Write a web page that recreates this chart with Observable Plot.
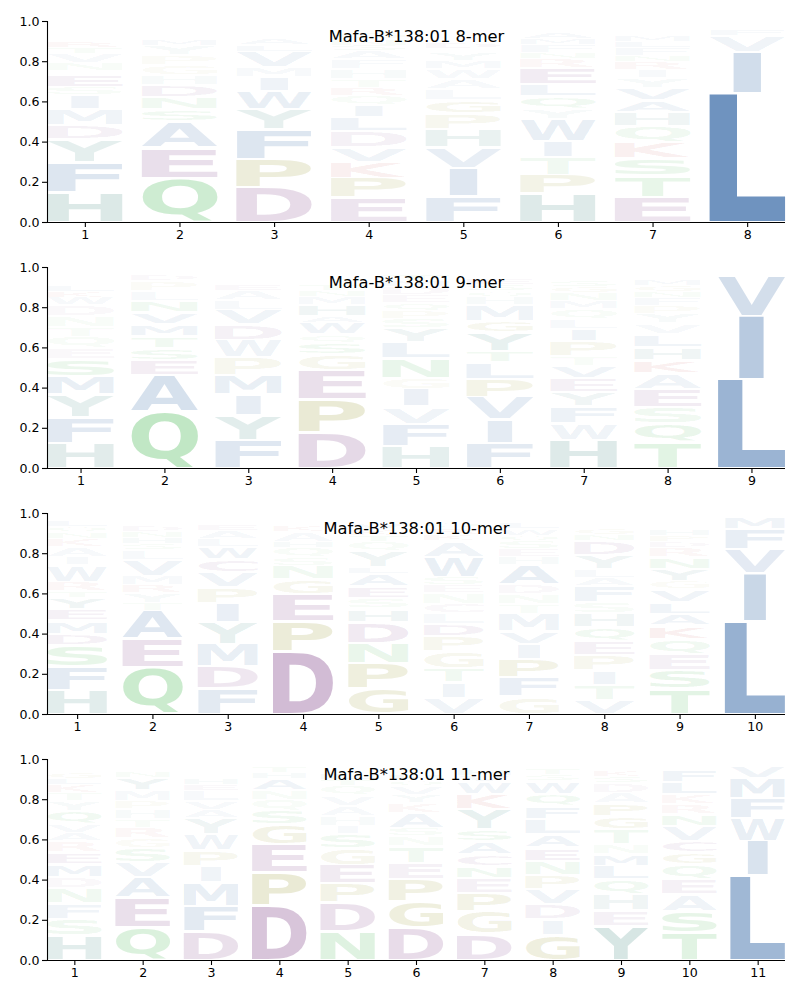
<!DOCTYPE html>
<html><head><meta charset="utf-8">
<script src="https://cdn.jsdelivr.net/npm/d3@7"></script>
<script src="https://cdn.jsdelivr.net/npm/@observablehq/plot@0.6"></script>
<style>
html,body{margin:0;padding:0;background:#fff;font-family:"DejaVu Sans";}
#chart svg{display:block}
</style>
</head><body><div id="chart"></div>
<script>
// Titles of the four panels
const titles = ["Mafa-B*138:01 8-mer", "Mafa-B*138:01 9-mer", "Mafa-B*138:01 10-mer", "Mafa-B*138:01 11-mer"];

// Letter probabilities per position, stacked bottom to top ("letter+height")
const mer8 = [
  "H.15 F.15 Y.11 D.07 M.08 I.07 S.04 E.06 K.02 N.04 V.05 T.03 R.03 Q.02 G.02 W.02 A.02 P.01 L.01",
  "Q.22 E.15 A.13 S.06 N.06 D.06 H.05 G.05 P.05 Y.05 M.03 K.02 L.02 T.02 R.02 W.01",
  "D.17 P.14 F.15 Y.10 W.09 I.07 M.05 V.08 L.03 A.03 E.02 S.02 T.02 Q.01 H.01",
  "E.12 P.10 K.08 V.07 D.08 L.07 I.06 Q.05 R.04 T.04 H.05 F.05 A.04 S.03 N.03 G.03 M.02 Y.02 W.01",
  "F.13 I.14 V.10 H.09 P.08 G.066 L.056 A.05 W.05 M.04 Y.04 E.02 D.03 S.02 Q.02 N.02 K.02 T.02 R.01",
  "H.14 P.094 T.087 I.083 W.11 Y.05 Q.06 L.06 E.085 R.045 N.03 F.04 M.03 A.03 S.02 G.02 K.02",
  "E.125 T.105 S.085 K.082 Q.08 H.07 A.06 V.06 Y.05 I.04 R.04 N.03 F.04 L.03 M.03 D.02 G.02 P.02 W.01",
  "L.64 I.205 V.08 F.03 M.025 Y.01 W.01"
];
const mer9 = [
  "H.125 F.13 Y.11 M.09 S.088 E.056 Q.054 T.05 N.054 D.053 W.04 K.03 L.03 R.02 P.02 G.02 A.02",
  "Q.28 A.18 E.078 S.06 T.06 M.058 V.058 N.058 L.05 P.05 D.03 R.02 G.02",
  "F.14 Y.123 I.104 M.094 P.088 W.086 D.079 V.073 L.049 A.045 E.03 H.02 S.02 T.02 Q.02 R.01",
  "D.175 P.165 E.145 G.079 S.06 Q.04 W.06 A.03 H.058 M.04 N.03 T.03 K.02 Y.02 F.02 L.02",
  "H.11 F.11 V.085 I.086 G.055 N.098 L.08 Y.07 S.05 P.04 Q.04 E.04 D.04 M.03 T.03 K.02 A.02",
  "F.125 I.116 V.112 P.09 L.082 T.058 Y.09 G.058 M.08 H.04 Q.03 S.03 E.03 W.02 A.02 N.02",
  "H.14 W.085 F.08 Y.07 E.07 V.06 T.05 P.077 I.06 L.05 Q.05 M.04 N.04 G.03 S.03 A.02 D.02 K.02",
  "T.13 Q.09 S.083 E.09 A.078 K.066 H.066 L.066 V.05 Y.05 P.04 F.04 N.03 G.03 M.03 R.02 I.02 D.02",
  "L.444 I.313 V.198 F.015 M.015 Y.01"
];
const mer10 = [
  "H.12 F.116 S.105 D.058 M.066 E.058 Y.058 T.03 R.047 W.083 I.04 A.05 K.04 N.03 Q.03 L.03 G.02 P.02",
  "Q.234 E.14 A.14 T.04 Y.05 R.038 M.045 V.08 L.05 S.03 H.03 N.03 D.03 G.02 P.02 F.02",
  "F.126 D.11 M.113 Y.108 I.094 P.08 V.074 C.066 W.06 L.04 A.04 E.03 H.02 S.02 T.02",
  "D.31 P.15 E.137 G.073 N.067 S.04 Q.05 H.03 A.05 K.03 Y.02 T.02 R.02",
  "G.126 P.128 N.10 D.105 H.066 S.05 E.058 A.066 L.03 Y.08 Q.05 T.03 K.03 V.03 M.02 F.02 R.02",
  "V.08 I.078 T.07 G.083 P.074 D.06 L.056 C.047 N.053 E.04 S.04 W.10 A.08 K.03 R.03 Q.03 F.02 Y.02",
  "G.088 F.096 P.09 I.075 V.063 M.086 T.047 N.05 D.05 A.095 H.04 E.04 S.04 Q.03 W.03 L.03 K.02 R.02",
  "V.07 T.075 I.07 P.08 E.07 Q.066 H.069 S.055 F.083 A.042 L.04 Y.072 D.07 N.03 G.03 K.02 M.02 R.02 W.01",
  "T.126 S.09 E.083 Q.075 K.066 A.058 L.058 V.066 G.04 Y.06 N.057 R.05 D.03 P.03 H.03 M.02 I.02 F.02 W.01",
  "L.46 I.24 V.12 F.10 M.06 W.01 Y.01"
];
const mer11 = [
  "H.12 S.083 F.078 N.077 D.056 M.063 E.058 R.055 A.043 V.043 Q.066 Y.05 T.04 K.04 L.03 G.03 P.02 W.02 I.02",
  "Q.164 E.146 A.10 V.074 S.072 G.049 R.053 T.042 H.05 P.04 M.053 Y.063 N.03 D.02 K.02 L.02",
  "D.144 F.125 M.116 I.083 P.078 W.082 Y.08 A.04 V.043 L.053 E.03 H.03 S.02 T.02 N.02 Q.02 G.01 K.01",
  "D.27 P.165 E.138 G.10 S.069 Q.054 N.046 A.058 H.03 T.03 K.02 Y.02",
  "N.144 D.141 P.095 E.093 G.083 S.072 I.04 H.05 A.05 V.05 Q.05 T.03 L.03 M.02 K.02 F.02",
  "D.16 G.13 P.11 E.084 T.083 N.05 S.04 A.075 K.05 Y.04 V.04 Q.03 H.03 R.02 L.02 M.02",
  "D.13 G.113 P.091 E.074 N.059 C.058 A.066 S.058 Y.10 K.074 W.066 V.03 H.03 R.02 T.02 M.01",
  "G.124 I.078 D.075 V.075 P.071 N.07 E.066 A.066 L.075 F.066 Q.058 W.066 S.03 T.03 M.02 Y.02 H.01",
  "Y.17 E.078 H.08 Q.074 L.067 M.058 N.05 T.074 G.066 P.062 A.054 D.05 S.03 K.03 R.02 F.02 V.01",
  "T.136 S.108 A.083 E.074 Q.075 G.058 C.058 V.074 N.059 R.05 K.05 L.06 F.06 M.02 Y.02 H.01",
  "L.42 I.17 W.116 F.10 M.10 V.06 Y.01 A.01"
];

// Colour groups of the amino acids
const blueLetters = "AFILMVW";
const tealLetters = "HY";
const greenLetters = "NQST";
const oliveLetters = "GP";
const redLetters = "KR";
const purpleLetters = "DEC";
const groupColors = {blue: "#1d569b", teal: "#146a60", green: "#22a830", olive: "#808000", red: "#b01818", purple: "#6e2878"};
function colorOf(ch) {
  if (blueLetters.includes(ch)) return groupColors.blue;
  if (tealLetters.includes(ch)) return groupColors.teal;
  if (greenLetters.includes(ch)) return groupColors.green;
  if (oliveLetters.includes(ch)) return groupColors.olive;
  if (redLetters.includes(ch)) return groupColors.red;
  return groupColors.purple;
}

const yTicks = [0, 0.2, 0.4, 0.6, 0.8, 1.0];

// glyph metrics from the installed font
const ctx = document.createElement("canvas").getContext("2d");
ctx.font = "bold 100px 'DejaVu Sans'";
ctx.textAlign = "left";
ctx.textBaseline = "alphabetic";
const metricCache = {};
function glyph(ch) {
  if (!metricCache[ch]) {
    const m = ctx.measureText(ch);
    metricCache[ch] = {l: m.actualBoundingBoxLeft, r: m.actualBoundingBoxRight, a: m.actualBoundingBoxAscent, d: m.actualBoundingBoxDescent};
  }
  return metricCache[ch];
}

function buildRows(cols) {
  const rows = [];
  cols.forEach((str, k) => {
    let acc = 0;
    for (const tok of str.trim().split(/\s+/)) {
      const letter = tok[0], v = +tok.slice(1);
      rows.push({pos: k + 1, letter, y0: acc, y1: acc + v, color: colorOf(letter), alpha: Math.min(1, v)});
      acc += v;
    }
  });
  return rows;
}

function logoMark(rows) {
  return Plot.rect(rows, {
    x1: d => d.pos - 0.4, x2: d => d.pos + 0.4, y1: "y0", y2: "y1",
    fill: "color", fillOpacity: "alpha",
    render(index, scales, values) {
      const {x1: X1, x2: X2, y1: Y1, y2: Y2, fill: F, fillOpacity: FO} = values;
      const E = glyph("E"); const eW = E.l + E.r;
      const g = d3.create("svg:g")
        .attr("font-family", "DejaVu Sans").attr("font-weight", "bold").attr("font-size", 100)
        .attr("text-anchor", "start");
      for (const i of index) {
        const ch = rows[i].letter;
        const left = Math.min(X1[i], X2[i]), w = Math.abs(X2[i] - X1[i]);
        let top = Math.min(Y1[i], Y2[i]), h = Math.abs(Y1[i] - Y2[i]);
        const pad = Math.min(1.2, h * 0.1); top += pad; h -= 2 * pad;
        if (h <= 0) continue;
        const m = glyph(ch); const gw = m.l + m.r, gh = m.a + m.d;
        const sx = Math.min(w / gw, w / eW), sy = h / gh;
        const shift = (w - sx * gw) / 2;
        g.append("text")
          .attr("text-anchor", "start")
          .attr("transform", `translate(${left + shift + m.l * sx},${top + m.a * sy}) scale(${sx},${sy})`)
          .attr("fill", F ? F[i] : rows[i].color)
          .attr("fill-opacity", FO ? FO[i] : rows[i].alpha)
          .text(ch);
      }
      return g.node();
    }
  });
}

const panels = [mer8, mer9, mer10, mer11];
const chart = document.getElementById("chart");
panels.forEach((cols, p) => {
  const n = cols.length;
  const rows = buildRows(cols);
  const positions = d3.range(1, n + 1);
  const fig = Plot.plot({
    width: 800, height: 246,
    marginLeft: 47, marginRight: 15, marginTop: 21, marginBottom: 24,
    style: {fontFamily: "DejaVu Sans", fontSize: "12.6px", color: "black", background: "white", overflow: "visible"},
    x: {domain: [0.6, n + 0.4]},
    y: {domain: [0, 1]},
    opacity: {type: "identity"},
    marks: [
      logoMark(rows),
      Plot.axisY({ticks: yTicks, tickFormat: d3.format(".1f"), tickSize: 5, tickPadding: 3, label: null, fontSize: 12.6, strokeWidth: 1.1}),
      Plot.axisX({ticks: positions, tickFormat: d => String(d), tickSize: 5, tickPadding: 3, label: null, fontSize: 12.6, strokeWidth: 1.1}),
      Plot.ruleY([0], {stroke: "black", strokeWidth: 1.1}),
      Plot.ruleX([0.6], {stroke: "black", strokeWidth: 1.1}),
      Plot.text([titles[p]], {text: d => d, frameAnchor: "top", lineAnchor: "middle", dy: 15, fontSize: 16.3, fill: "black"})
    ]
  });
  chart.appendChild(fig);
});
</script>
</body></html>
